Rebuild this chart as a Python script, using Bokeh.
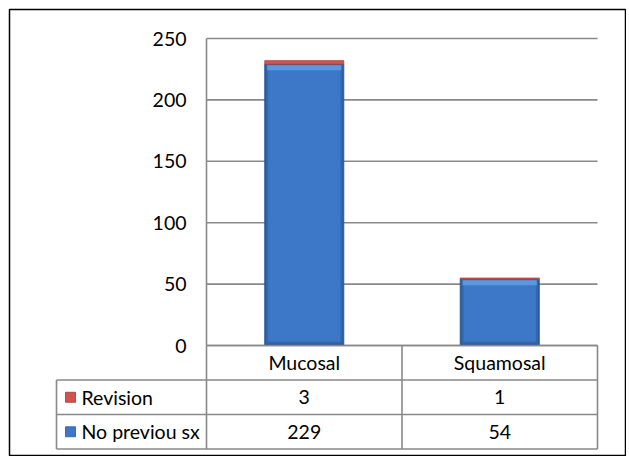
from bokeh.plotting import figure
from bokeh.models import Range1d
from bokeh.core.properties import value
from bokeh.embed import file_html
from bokeh.resources import INLINE

# ---- data ----
categories = ["Mucosal", "Squamosal"]
no_previous = [229, 54]
revision = [3, 1]
series_names = ["Revision", "No previou sx"]
y_ticks = [0, 50, 100, 150, 200, 250]
y_tick_labels = ["0", "50", "100", "150", "200", "250"]

FONT = "Lato"
FS = "19.5px"
GRID = "#898989"
BLUE = "#3c78c7"
BLUE_MID = "#3468ad"
BLUE_EDGE = "#2b5a98"
BLUE_LIGHT = "#5b98dd"
RED = "#d4524e"
RED_EDGE = "#973a36"

# frame spans the chart border (page px 9..625 x, 9..455 y)
FL, FT = 9, 9
FW, FH = 616, 446
W, H = FL + FW + 1, FT + FH + 1
px_x = 195.5          # pixels per category column
px_y = 1.228          # pixels per value unit
x0 = -(206 - FL) / px_x
y1 = (345 - FT) / px_y

p = figure(width=W, height=H, output_backend="svg", toolbar_location=None,
           x_range=Range1d(x0, x0 + FW / px_x), y_range=Range1d(y1 - FH / px_y, y1),
           min_border_left=FL, min_border_top=FT, min_border_right=1, min_border_bottom=1)
p.axis.visible = False
p.grid.visible = False
p.outline_line_color = "black"
p.outline_line_width = 1.5
p.background_fill_color = "white"
p.border_fill_color = "white"

ncat = len(categories)
xc = [i + 0.5 for i in range(ncat)]

# gridlines
p.segment(x0=[0] * len(y_ticks), x1=[ncat] * len(y_ticks), y0=y_ticks, y1=y_ticks,
          line_color=GRID, line_width=1.6)
# y axis line
p.segment(x0=[0], x1=[0], y0=[0], y1=[max(y_ticks)], line_color=GRID, line_width=1.6)
# tick labels
p.text(x=[-20 / px_x] * len(y_ticks), y=y_ticks, text=y_tick_labels, text_align="right",
       text_baseline="middle", text_font=value(FONT), text_font_size=FS, text_color="black")

# stacked bars (layered for a soft bevel look)
bw = 0.405
zeros = [0] * ncat
p.vbar(x=xc, bottom=zeros, top=no_previous, width=bw, fill_color=BLUE_EDGE,
       line_color=BLUE_EDGE, line_width=0.8)
p.vbar(x=xc, bottom=[2 / px_y] * ncat, top=[v - 1 / px_y for v in no_previous],
       width=bw - 3 / px_x, fill_color=BLUE_MID, line_color=None)
p.vbar(x=xc, bottom=[4 / px_y] * ncat, top=[v - 1 / px_y for v in no_previous],
       width=bw - 7 / px_x, fill_color=BLUE, line_color=None)
p.vbar(x=xc, bottom=[v - 6 / px_y for v in no_previous], top=[v - 1 / px_y for v in no_previous],
       width=bw - 5 / px_x, fill_color=BLUE_LIGHT, line_color=None)
tops = [a + b for a, b in zip(no_previous, revision)]
p.vbar(x=xc, bottom=no_previous, top=tops, width=bw, fill_color=RED,
       line_color=RED_EDGE, line_width=0.6)

# data table
row_h = 34.5 / px_y
label_w = (206 - 56) / px_x
rows_y = [0, -row_h, -2 * row_h, -3 * row_h]
p.segment(x0=[0, -label_w, -label_w, -label_w], x1=[ncat] * 4, y0=rows_y, y1=rows_y,
          line_color=GRID, line_width=1.6)
vx = list(range(ncat + 1))
p.segment(x0=vx, x1=vx, y0=[0] * len(vx), y1=[rows_y[-1]] * len(vx),
          line_color=GRID, line_width=1.6)
p.segment(x0=[-label_w], x1=[-label_w], y0=[rows_y[1]], y1=[rows_y[-1]],
          line_color=GRID, line_width=1.6)

p.text(x=xc, y=[-row_h / 2] * ncat, text=categories, text_align="center",
       text_baseline="middle", text_font=value(FONT), text_font_size=FS)

series_vals = [revision, no_previous]
series_colors = [RED, BLUE]
series_edges = [RED_EDGE, BLUE_EDGE]
for r, (name, vals, col, edge) in enumerate(zip(series_names, series_vals, series_colors, series_edges)):
    yc = -row_h * (r + 1.5)
    p.scatter(x=[-label_w + 14 / px_x], y=[yc], marker="square", size=10,
              fill_color=col, line_color=edge, line_width=0.8)
    p.text(x=[-label_w + 25 / px_x], y=[yc], text=[name], text_align="left",
           text_baseline="middle", text_font=value(FONT), text_font_size=FS)
    p.text(x=xc, y=[yc] * ncat, text=[str(v) for v in vals], text_align="center",
           text_baseline="middle", text_font=value(FONT), text_font_size=FS)

open("out.html", "w").write(file_html(p, INLINE))
